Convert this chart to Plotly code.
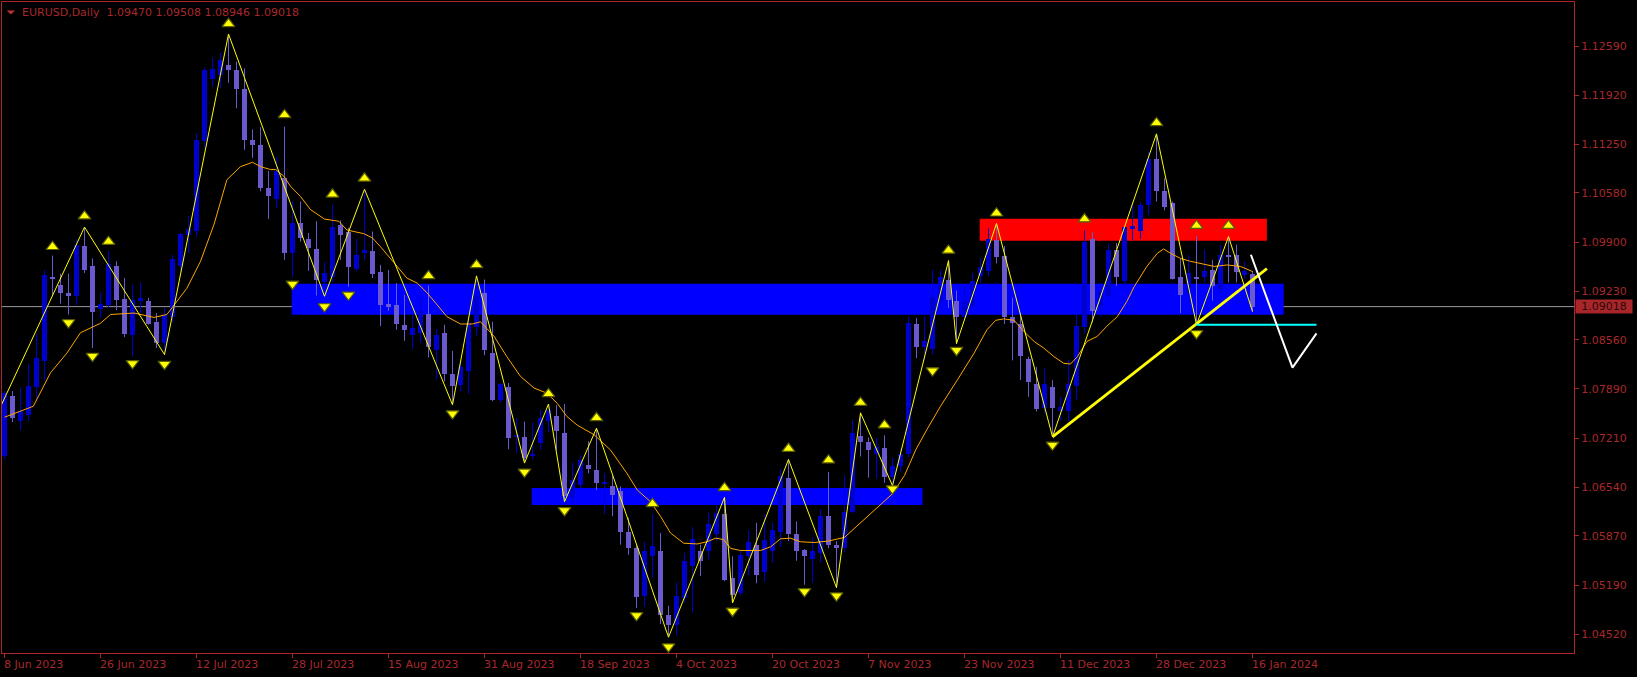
import plotly.graph_objects as go

# ---------------- data ----------------
date_labels = ["8 Jun 2023", "26 Jun 2023", "12 Jul 2023", "28 Jul 2023", "15 Aug 2023",
               "31 Aug 2023", "18 Sep 2023", "4 Oct 2023", "20 Oct 2023", "7 Nov 2023",
               "23 Nov 2023", "11 Dec 2023", "28 Dec 2023", "16 Jan 2024"]
date_label_idx = [0, 12, 24, 36, 48, 60, 72, 84, 96, 108, 120, 132, 144, 156]

price_ticks = [1.12590, 1.11920, 1.11250, 1.10580, 1.09900, 1.09230, 1.08560,
               1.07890, 1.07210, 1.06540, 1.05870, 1.05190, 1.04520]

opens = [1.0697, 1.0779, 1.0745, 1.0753, 1.0792, 1.0827, 1.0942, 1.0932, 1.0920, 1.0916,
         1.0985, 1.0957, 1.0899, 1.0904, 1.0957, 1.0912, 1.0863, 1.0909, 1.0909, 1.0881,
         1.0852, 1.0887, 1.0957, 1.1000, 1.1005, 1.1129, 1.1214, 1.1220, 1.1234, 1.1227,
         1.1200, 1.1131, 1.1124, 1.1064, 1.1050, 1.1078, 1.0975, 1.1016, 1.0995, 1.0981,
         1.0936, 1.0942, 1.1014, 1.1004, 1.0953, 1.0976, 1.0978, 1.0950, 1.0906, 1.0904,
         1.0877, 1.0863, 1.0865, 1.0892, 1.0842, 1.0866, 1.0809, 1.0794, 1.0814, 1.0874,
         1.0920, 1.0838, 1.0774, 1.0791, 1.0723, 1.0723, 1.0697, 1.0715, 1.0745, 1.0751,
         1.0728, 1.0641, 1.0657, 1.0684, 1.0678, 1.0658, 1.0656, 1.0649, 1.0593, 1.0570,
         1.0504, 1.0559, 1.0566, 1.0478, 1.0465, 1.0502, 1.0546, 1.0566, 1.0566, 1.0590,
         1.0617, 1.0529, 1.0509, 1.0559, 1.0575, 1.0537, 1.0566, 1.0593, 1.0666, 1.0590,
         1.0568, 1.0555, 1.0563, 1.0614, 1.0575, 1.0570, 1.0620, 1.0724, 1.0716, 1.0700,
         1.0708, 1.0668, 1.0683, 1.0700, 1.0878, 1.0846, 1.0844, 1.0909, 1.0938, 1.0910,
         1.0888, 1.0903, 1.0944, 1.0951, 1.0993, 1.0971, 1.0887, 1.0878, 1.0830, 1.0795,
         1.0763, 1.0791, 1.0758, 1.0758, 1.0793, 1.0874, 1.0994, 1.0901, 1.0916, 1.0980,
         1.0937, 1.1009, 1.1005, 1.1041, 1.1105, 1.1060, 1.1044, 1.0942, 1.0920, 1.0943,
         1.0942, 1.0952, 1.0926, 1.0973, 1.0973, 1.0945, 1.09470]
highs = [1.0786, 1.0786, 1.0790, 1.0823, 1.0865, 1.0952, 1.0972, 1.0947, 1.0947, 1.0994,
         1.1011, 1.0968, 1.0921, 1.0978, 1.0964, 1.0941, 1.0932, 1.0935, 1.0914, 1.0893,
         1.0900, 1.0973, 1.1003, 1.1026, 1.1140, 1.1230, 1.1244, 1.1250, 1.1276, 1.1238,
         1.1229, 1.1145, 1.1148, 1.1088, 1.1108, 1.1149, 1.1046, 1.1046, 1.1003, 1.1019,
         1.0963, 1.1042, 1.1020, 1.1010, 1.0995, 1.1063, 1.1005, 1.0959, 1.0952, 1.0934,
         1.0918, 1.0890, 1.0914, 1.0931, 1.0871, 1.0877, 1.0841, 1.0826, 1.0886, 1.0944,
         1.0939, 1.0881, 1.0797, 1.0797, 1.0749, 1.0744, 1.0743, 1.0760, 1.0768, 1.0767,
         1.0768, 1.0688, 1.0698, 1.0717, 1.0735, 1.0673, 1.0670, 1.0655, 1.0612, 1.0574,
         1.0579, 1.0617, 1.0591, 1.0491, 1.0523, 1.0564, 1.0599, 1.0575, 1.0619, 1.0629,
         1.0640, 1.0559, 1.0566, 1.0595, 1.0605, 1.0617, 1.0605, 1.0678, 1.0692, 1.0607,
         1.0569, 1.0584, 1.0623, 1.0675, 1.0580, 1.0670, 1.0746, 1.0756, 1.0722, 1.0722,
         1.0725, 1.0694, 1.0707, 1.0888, 1.0886, 1.0888, 1.0952, 1.0952, 1.0965, 1.0924,
         1.0929, 1.0948, 1.0968, 1.1010, 1.1016, 1.0985, 1.0914, 1.0893, 1.0833, 1.0819,
         1.0817, 1.0801, 1.0778, 1.0829, 1.0891, 1.1007, 1.1004, 1.0934, 1.0988, 1.0989,
         1.1012, 1.1045, 1.1045, 1.1115, 1.1139, 1.1078, 1.1046, 1.0968, 1.0973, 1.0999,
         1.0980, 1.0966, 1.0987, 1.0998, 1.0987, 1.0964, 1.09508]
lows = [1.0692, 1.0743, 1.0732, 1.0745, 1.0773, 1.0801, 1.0918, 1.0906, 1.0891, 1.0904,
        1.0948, 1.0845, 1.0887, 1.0900, 1.0897, 1.0860, 1.0834, 1.0893, 1.0877, 1.0845,
        1.0836, 1.0880, 1.0950, 1.0975, 1.0998, 1.1120, 1.1204, 1.1202, 1.1209, 1.1174,
        1.1117, 1.1106, 1.1060, 1.1022, 1.1037, 1.0966, 1.0943, 1.0991, 1.0951, 1.0917,
        1.0916, 1.0935, 1.0966, 1.0929, 1.0950, 1.0966, 1.0941, 1.0875, 1.0896, 1.0870,
        1.0855, 1.0844, 1.0852, 1.0832, 1.0802, 1.0799, 1.0767, 1.0785, 1.0782, 1.0862,
        1.0835, 1.0772, 1.0770, 1.0706, 1.0701, 1.0687, 1.0692, 1.0705, 1.0729, 1.0705,
        1.0634, 1.0630, 1.0650, 1.0673, 1.0650, 1.0617, 1.0614, 1.0575, 1.0561, 1.0488,
        1.0490, 1.0530, 1.0466, 1.0448, 1.0450, 1.0495, 1.0482, 1.0532, 1.0555, 1.0580,
        1.0525, 1.0495, 1.0505, 1.0533, 1.0522, 1.0524, 1.0550, 1.0572, 1.0580, 1.0553,
        1.0520, 1.0523, 1.0550, 1.0570, 1.0516, 1.0565, 1.0618, 1.0696, 1.0667, 1.0666,
        1.0660, 1.0656, 1.0675, 1.0695, 1.0831, 1.0828, 1.0836, 1.0900, 1.0900, 1.0851,
        1.0883, 1.0900, 1.0935, 1.0944, 1.0961, 1.0878, 1.0828, 1.0801, 1.0778, 1.0758,
        1.0755, 1.0723, 1.0745, 1.0745, 1.0774, 1.0864, 1.0880, 1.0888, 1.0912, 1.0930,
        1.0930, 1.0993, 1.0995, 1.1028, 1.1046, 1.1034, 1.0939, 1.0893, 1.0914, 1.0877,
        1.0935, 1.0910, 1.0920, 1.0935, 1.0935, 1.0940, 1.08946]
closes = [1.0783, 1.0749, 1.0759, 1.0793, 1.0831, 1.0945, 1.0940, 1.0921, 1.0916, 1.0987,
          1.0952, 1.0894, 1.0906, 1.0961, 1.0911, 1.0864, 1.0911, 1.0914, 1.0878, 1.0852,
          1.0891, 1.0967, 1.1001, 1.1009, 1.1131, 1.1226, 1.1228, 1.1241, 1.1227, 1.1201,
          1.1130, 1.1124, 1.1065, 1.1054, 1.1088, 1.0975, 1.1016, 1.0996, 1.0982, 1.0938,
          1.0948, 1.1011, 1.1000, 1.0956, 1.0973, 1.0979, 1.0947, 1.0904, 1.0901, 1.0878,
          1.0870, 1.0872, 1.0896, 1.0847, 1.0863, 1.0809, 1.0793, 1.0819, 1.0880, 1.0916,
          1.0842, 1.0773, 1.0795, 1.0721, 1.0726, 1.0694, 1.0700, 1.0749, 1.0760, 1.0731,
          1.0642, 1.0664, 1.0691, 1.0679, 1.0659, 1.0661, 1.0643, 1.0592, 1.0570, 1.0503,
          1.0566, 1.0573, 1.0478, 1.0465, 1.0505, 1.0552, 1.0583, 1.0552, 1.0604, 1.0618,
          1.0526, 1.0506, 1.0561, 1.0579, 1.0534, 1.0582, 1.0595, 1.0669, 1.0589, 1.0566,
          1.0559, 1.0566, 1.0614, 1.0575, 1.0570, 1.0620, 1.0728, 1.0716, 1.0705, 1.0709,
          1.0668, 1.0683, 1.0700, 1.0879, 1.0846, 1.0854, 1.0915, 1.0942, 1.0911, 1.0888,
          1.0909, 1.0937, 1.0956, 1.0995, 1.0970, 1.0888, 1.0880, 1.0834, 1.0798, 1.0761,
          1.0795, 1.0763, 1.0764, 1.0795, 1.0875, 1.0991, 1.0896, 1.0923, 1.0980, 1.0942,
          1.1011, 1.1013, 1.1041, 1.1105, 1.1060, 1.1039, 1.0940, 1.0918, 1.0948, 1.0940,
          1.0951, 1.0930, 1.0973, 1.0970, 1.0949, 1.0951, 1.09018]

# moving average (orange)
ma_x = [0, 3.6, 5.75, 7.8, 9.5, 12, 13.25, 14.5, 16.2, 18.7, 20.3, 21.2, 22.8, 24.5, 26.2,
        27.8, 29.5, 31, 32, 33.25, 33.9, 34.9, 35.75, 37, 38.25, 40, 41.8, 42.8, 44.9, 46,
        47, 48.7, 50.3, 51.6, 52.8, 54.1, 55.3, 57, 58.5, 59.5, 61.2, 62.8, 64.5, 66.2, 67.8,
        69.1, 70.3, 71.6, 73.7, 75.75, 77.8, 79.1, 80.75, 82, 83.25, 84.9, 86.6, 87.8, 88.9,
        89.9, 90.75, 92, 93.25, 94.5, 95.75, 97, 98.25, 99.5, 101.2, 103, 105, 107, 109, 111,
        112.5, 113.9, 115.3, 117, 119.1, 121.2, 122.8, 123.9, 124.9, 126.2, 127.4, 128.7,
        129.9, 131.2, 132.4, 133.25, 134.1, 135.3, 136.6, 137.8, 139.1, 140.3, 141.2, 142.8,
        144.1, 144.9, 145.75, 147, 148.25, 149.5, 151.2, 152.8, 154.5, 156]
ma_y = [1.0750, 1.0765, 1.0811, 1.0838, 1.0866, 1.0879, 1.0891, 1.0892, 1.0893, 1.0887,
        1.0891, 1.0904, 1.0927, 1.0964, 1.1015, 1.1076, 1.1094, 1.1100, 1.1094, 1.1090,
        1.1090, 1.1081, 1.1067, 1.1053, 1.1035, 1.1022, 1.1019, 1.1007, 1.1002, 1.0996,
        1.0984, 1.0962, 1.0941, 1.0934, 1.0921, 1.0904, 1.0888, 1.0878, 1.0878, 1.0881,
        1.0861, 1.0833, 1.0806, 1.0790, 1.0783, 1.0769, 1.0751, 1.0739, 1.0726, 1.0705,
        1.0673, 1.0650, 1.0634, 1.0614, 1.0591, 1.0577, 1.0576, 1.0579, 1.0584, 1.0582,
        1.0570, 1.0567, 1.0567, 1.0567, 1.0572, 1.0583, 1.0584, 1.0579, 1.0578, 1.0580,
        1.0585, 1.0605, 1.0625, 1.0645, 1.0670, 1.0705, 1.0733, 1.0765, 1.0801, 1.0838,
        1.0870, 1.0883, 1.0885, 1.0883, 1.0868, 1.0854, 1.0845, 1.0833, 1.0824, 1.0823,
        1.0833, 1.0854, 1.0861, 1.0875, 1.0888, 1.0909, 1.0929, 1.0957, 1.0975, 1.0981,
        1.0975, 1.0968, 1.0964, 1.0961, 1.0957, 1.0959, 1.0957, 1.0950]

# zigzag vertices
zz_x = [-6, 10, 20, 28, 40, 45, 56, 59, 65, 68, 70, 74, 83, 90, 91, 98, 104, 107, 111,
        118, 119, 124, 131, 144, 149, 153, 156]
zz_y = [1.0635, 1.1011, 1.0836, 1.1276, 1.0916, 1.1063, 1.0767, 1.0944, 1.0687, 1.0768,
        1.0634, 1.0735, 1.0448, 1.0640, 1.0495, 1.0692, 1.0516, 1.0756, 1.0656, 1.0965,
        1.0851, 1.1016, 1.0723, 1.1139, 1.0877, 1.0998, 1.0895]

# arrow signals
up_arrow_x = [6, 10, 13, 28, 35, 41, 45, 53, 59, 68, 74, 81, 90, 98, 103, 107, 110, 118,
              124, 135, 144, 149, 153]
up_arrow_y = [1.0984, 1.1026, 1.0991, 1.1290, 1.1165, 1.1056, 1.1078, 1.0944, 1.0959,
              1.0782, 1.0749, 1.0631, 1.0653, 1.0707, 1.0691, 1.0770, 1.0739, 1.0979,
              1.1030, 1.1022, 1.1154, 1.1013, 1.1013]
dn_arrow_x = [8, 11, 16, 20, 36, 40, 43, 56, 65, 70, 79, 83, 91, 100, 104, 111, 116, 119,
              131, 149]
dn_arrow_y = [1.0880, 1.0834, 1.0824, 1.0823, 1.0933, 1.0902, 1.0918, 1.0755, 1.0675,
              1.0622, 1.0478, 1.0435, 1.0484, 1.0511, 1.0505, 1.0652, 1.0814, 1.0842,
              1.0712, 1.0865]

# zones  (x0, x1, y0, y1)
zone_upper = (35.9, 159.9, 1.08905, 1.09331)
zone_lower = (65.9, 114.75, 1.06296, 1.06529)
zone_red = (121.9, 157.8, 1.09922, 1.10224)

trend_x = [131, 157.8]
trend_y = [1.0723, 1.0954]
cyan_x = [149, 164]
cyan_y = [1.0877, 1.0877]
white_x = [155.8, 161, 164]
white_y = [1.0973, 1.0818, 1.0865]

current_price = 1.09018
header = "EURUSD,Daily\u00a0\u00a01.09470 1.09508 1.08946 1.09018"

# ---------------- figure ----------------
BULL = "#0000CD"
BEAR = "#6A5ACD"
AXC = "#a8282b"
FONT = "DejaVu Sans"

n = len(opens)
idx = list(range(n))

fig = go.Figure()

# wicks
for col, cond in ((BULL, True), (BEAR, False)):
    wx, wy = [], []
    for i in idx:
        if (closes[i] >= opens[i]) == cond:
            wx += [i, i, None]
            wy += [lows[i], highs[i], None]
    fig.add_trace(go.Scatter(x=wx, y=wy, mode="lines", line=dict(color=col, width=1),
                             hoverinfo="skip", showlegend=False))

# bodies
min_h = 0.00014
base, hgt, cols = [], [], []
for i in idx:
    lo, hi = min(opens[i], closes[i]), max(opens[i], closes[i])
    h = hi - lo
    if h < min_h:
        mid = (hi + lo) / 2
        lo, h = mid - min_h / 2, min_h
    base.append(lo)
    hgt.append(h)
    cols.append(BULL if closes[i] >= opens[i] else BEAR)
fig.add_trace(go.Bar(x=idx, y=hgt, base=base, width=0.62,
                     marker=dict(color=cols, line=dict(width=0)),
                     hoverinfo="skip", showlegend=False))

# moving average
fig.add_trace(go.Scatter(x=ma_x, y=ma_y, mode="lines", line=dict(color="#FFA500", width=1),
                         hoverinfo="skip", showlegend=False))
# zigzag
fig.add_trace(go.Scatter(x=zz_x, y=zz_y, mode="lines", line=dict(color="#FFFF00", width=1),
                         hoverinfo="skip", showlegend=False))
# arrows
fig.add_trace(go.Scatter(x=up_arrow_x, y=up_arrow_y, mode="markers",
                         marker=dict(symbol="triangle-up", size=11, color="#FFFF00",
                                     line=dict(color="#5c5c00", width=1.2)),
                         hoverinfo="skip", showlegend=False))
fig.add_trace(go.Scatter(x=dn_arrow_x, y=dn_arrow_y, mode="markers",
                         marker=dict(symbol="triangle-down", size=11, color="#FFFF00",
                                     line=dict(color="#5c5c00", width=1.2)),
                         hoverinfo="skip", showlegend=False))
# trend / projection lines
fig.add_trace(go.Scatter(x=trend_x, y=trend_y, mode="lines", line=dict(color="#FFFF00", width=2.8),
                         hoverinfo="skip", showlegend=False))
fig.add_trace(go.Scatter(x=cyan_x, y=cyan_y, mode="lines", line=dict(color="#00FFFF", width=2),
                         hoverinfo="skip", showlegend=False))
fig.add_trace(go.Scatter(x=white_x, y=white_y, mode="lines", line=dict(color="#FFFFFF", width=2),
                         hoverinfo="skip", showlegend=False))

shapes = []
for (x0, x1, y0, y1), col in ((zone_upper, "#0000FF"), (zone_lower, "#0000FF"), (zone_red, "#FF0000")):
    shapes.append(dict(type="rect", xref="x", yref="y", x0=x0, x1=x1, y0=y0, y1=y1,
                       fillcolor=col, line=dict(width=0), layer="below"))
shapes.append(dict(type="line", xref="paper", yref="y", x0=0, x1=1, y0=current_price,
                   y1=current_price, line=dict(color="#9a9aa2", width=1), layer="below"))
# small header triangle
shapes.append(dict(type="path", xref="paper", yref="paper",
                   path="M 0.00299 0.98709 L 0.00827 0.98709 L 0.00563 0.98094 Z",
                   fillcolor="#c0302f", line=dict(width=0)))

annotations = [dict(xref="paper", yref="paper", x=0.0112, y=0.9838, xanchor="left",
                    yanchor="middle", text=header, showarrow=False,
                    font=dict(family=FONT, size=11, color=AXC))]
for lbl, i in zip(date_labels, date_label_idx):
    annotations.append(dict(xref="x", yref="paper", x=i, y=0, xanchor="left", yanchor="top",
                            xshift=-3, yshift=-3, text=lbl, showarrow=False,
                            font=dict(family=FONT, size=11, color=AXC)))
annotations.append(dict(xref="paper", yref="y", x=1.0006, y=current_price, xanchor="left",
                        yanchor="middle", text=f"{current_price:.5f}", showarrow=False,
                        bgcolor="#a8262a", width=54, height=11, borderpad=1, align="center",
                        font=dict(family=FONT, size=11, color="#2a0808")))

fig.update_layout(
    width=1637, height=677,
    margin=dict(l=2, r=63, t=2, b=24, autoexpand=False),
    paper_bgcolor="#000000", plot_bgcolor="#000000",
    barmode="overlay", bargap=0,
    shapes=shapes, annotations=annotations,
    showlegend=False,
)
fig.update_xaxes(range=[-0.3125, 196.1875], showgrid=False, zeroline=False, automargin=False,
                 showline=True, mirror=True, linecolor=AXC, linewidth=1,
                 tickmode="array", tickvals=date_label_idx, ticks="outside", ticklen=4,
                 tickcolor=AXC, showticklabels=False)
fig.update_yaxes(range=[1.04263, 1.13200], side="right", showgrid=False, zeroline=False,
                 automargin=False,
                 showline=True, mirror=True, linecolor=AXC, linewidth=1,
                 tickmode="array", tickvals=price_ticks,
                 ticktext=[f"{v:.5f}" for v in price_ticks],
                 ticks="outside", ticklen=4, tickcolor=AXC,
                 tickfont=dict(family=FONT, size=11, color=AXC))

fig.write_html("out.html", config={"displayModeBar": False},
               post_script="document.body.style.margin='0px';document.body.style.overflow='hidden';")
